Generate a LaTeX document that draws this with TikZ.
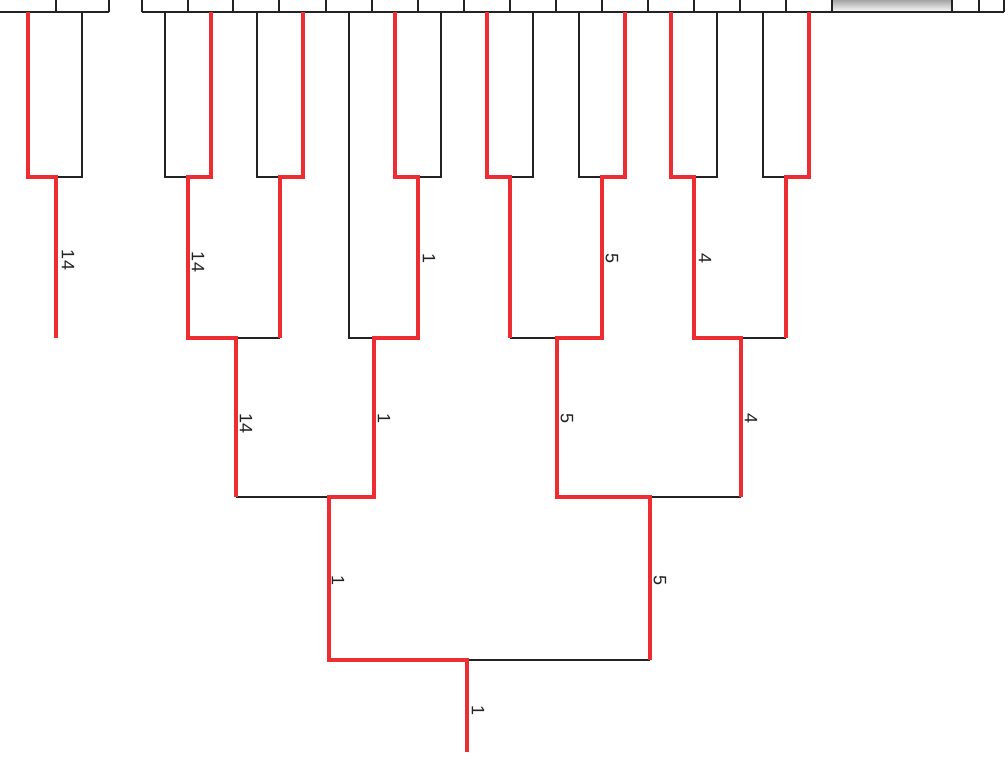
\documentclass[tikz,border=0pt]{standalone}
\usepackage{fontspec}
\setmainfont{Liberation Sans}
\definecolor{win}{RGB}{238,45,50}
\definecolor{ln}{RGB}{35,35,35}
\definecolor{shade}{RGB}{205,205,205}
\begin{document}
\begin{tikzpicture}[x=1pt,y=-1pt,
  lose/.style={draw=ln,line width=1.5pt},
  winpath/.style={draw=win,line width=4pt,line join=miter},
  cell/.style={draw=ln,line width=1.5pt},
  lbl/.style={font=\fontsize{18}{18}\selectfont,rotate=-90,inner sep=0pt,text=ln}]
\useasboundingbox (0,0) rectangle (1008,764);
\clip (0,0) rectangle (1008,764);
\fill[white] (0,0) rectangle (1008,764);
% top row of cells
\fill[shade] (832,-5) rectangle (952,12);
\draw[cell] (-5,12) -- (109,12);
\foreach \x in {56,109} \draw[cell] (\x,-5) -- (\x,12);
\draw[cell] (142,12) -- (1004,12);
\foreach \x in {142,188,233,279,326,372,418,464,510,556,602,648,694,740,786,832,952,979,1004}
  \draw[cell] (\x,-5) -- (\x,12);
% leaves
\foreach \n/\x in {1/28,2/82,3/165,4/211,5/257,6/303,7/349,8/395,9/441,10/487,11/533,12/579,13/625,14/671,15/717,16/763,17/809}
  \coordinate (L\n) at (\x,12);
% level 1 junctions
\foreach \n/\x in {1/56,2/188,3/280,4/418,5/510,6/602,7/694,8/786}{
  \coordinate (A\n) at (\x,177);
  \coordinate (B\n) at (\x,338);}
\coordinate (B9) at (349,338);
% level 2
\foreach \n/\x in {1/236,2/374,3/557,4/741}{
  \coordinate (C\n) at (\x,338);
  \coordinate (D\n) at (\x,497);}
% level 3
\coordinate (E1) at (329,497); \coordinate (F1) at (329,660);
\coordinate (E2) at (650,497); \coordinate (F2) at (650,660);
% root
\coordinate (G) at (467,660); \coordinate (H) at (467,752);
% losing (black) branches
\draw[lose] (L2) |- (A1);
\draw[lose] (L3) |- (A2);
\draw[lose] (L5) |- (A3);
\draw[lose] (L7) -- (B9) -- (C2);
\draw[lose] (L9) |- (A4);
\draw[lose] (L11) |- (A5);
\draw[lose] (L12) |- (A6);
\draw[lose] (L15) |- (A7);
\draw[lose] (L16) |- (A8);
\draw[lose] (B3) -- (C1);
\draw[lose] (B5) -- (C3);
\draw[lose] (B8) -- (C4);
\draw[lose] (D1) -- (E1);
\draw[lose] (D4) -- (E2);
\draw[lose] (F2) -- (G);
% winning (red) paths
\draw[winpath] (L1) |- (A1) -- (B1);
\draw[winpath] (L4) |- (A2) -- (B2) -- (C1) -- (D1);
\draw[winpath] (L6) |- (A3) -- (B3);
\draw[winpath] (L8) |- (A4) -- (B4) -- (C2) -- (D2) -- (E1) -- (F1) -- (G) -- (H);
\draw[winpath] (L10) |- (A5) -- (B5);
\draw[winpath] (L13) |- (A6) -- (B6) -- (C3) -- (D3) -- (E2) -- (F2);
\draw[winpath] (L14) |- (A7) -- (B7) -- (C4) -- (D4);
\draw[winpath] (L17) |- (A8) -- (B8);
% labels
\node[lbl] (t1) at (68,260) {14};
\node[lbl] (t2) at (198,262) {14};
\node[lbl] (t3) at (429,258) {1};
\node[lbl] (t4) at (612,258) {5};
\node[lbl] (t5) at (705,258) {4};
\node[lbl] (t6) at (246,423) {14};
\node[lbl] (t7) at (384,418) {1};
\node[lbl] (t8) at (567,418) {5};
\node[lbl] (t9) at (751,418) {4};
\node[lbl] (t10) at (338,580) {1};
\node[lbl] (t11) at (660,580) {5};
\node[lbl] (t12) at (478,710) {1};
\end{tikzpicture}
\end{document}
